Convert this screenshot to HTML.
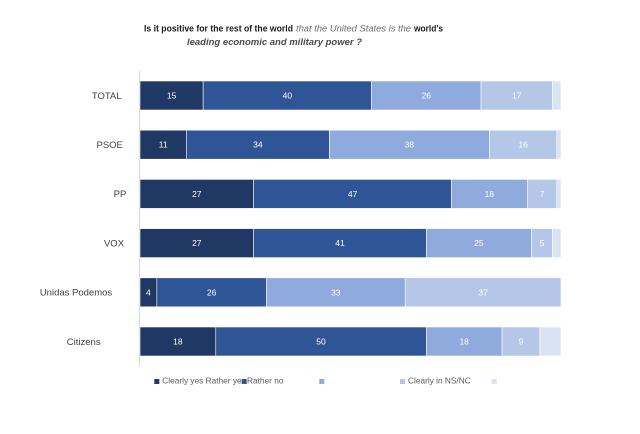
<!DOCTYPE html>
<html>
<head>
<meta charset="utf-8">
<style>
html,body{margin:0;padding:0;background:#fff;}
svg{display:block;}
text{font-family:"Liberation Sans",Arial,sans-serif;}
</style>
</head>
<body>
<svg width="640" height="434" viewBox="0 0 640 434" xmlns="http://www.w3.org/2000/svg">
<rect width="640" height="434" fill="#fff"/>
<!-- Title -->
<text x="144" y="31.3" font-size="9" font-weight="bold" fill="#1a1a1a" textLength="149" lengthAdjust="spacingAndGlyphs">Is it positive for the rest of the world</text>
<text x="296" y="31.3" font-size="9" font-style="italic" fill="#6b6b6b" textLength="115" lengthAdjust="spacingAndGlyphs">that the United States is the</text>
<text x="414" y="31.3" font-size="9" font-weight="bold" fill="#1a1a1a" textLength="29" lengthAdjust="spacingAndGlyphs">world's</text>
<text x="187" y="45" font-size="9" font-weight="bold" font-style="italic" fill="#4a4a4a" textLength="175" lengthAdjust="spacingAndGlyphs">leading economic and military power ?</text>

<!-- axis -->
<line x1="139.5" y1="70.5" x2="139.5" y2="366" stroke="#d9d9d9" stroke-width="1"/>

<g stroke="#ffffff" stroke-width="0.6">
<!-- TOTAL: 15,40,26,17,2 -->
<rect x="140" y="81" width="63.15" height="29" fill="#203864"/>
<rect x="203.15" y="81" width="168.4" height="29" fill="#2f5597"/>
<rect x="371.55" y="81" width="109.46" height="29" fill="#8faadc"/>
<rect x="481.01" y="81" width="71.57" height="29" fill="#b4c7e7"/>
<rect x="552.58" y="81" width="8.42" height="29" fill="#dae3f3"/>
<!-- PSOE: 11,34,38,16,1 -->
<rect x="140" y="130.2" width="46.31" height="29" fill="#203864"/>
<rect x="186.31" y="130.2" width="143.14" height="29" fill="#2f5597"/>
<rect x="329.45" y="130.2" width="159.98" height="29" fill="#8faadc"/>
<rect x="489.43" y="130.2" width="67.36" height="29" fill="#b4c7e7"/>
<rect x="556.79" y="130.2" width="4.21" height="29" fill="#dae3f3"/>
<!-- PP: 27,47,18,7,1 -->
<rect x="140" y="179.4" width="113.67" height="29" fill="#203864"/>
<rect x="253.67" y="179.4" width="197.87" height="29" fill="#2f5597"/>
<rect x="451.54" y="179.4" width="75.78" height="29" fill="#8faadc"/>
<rect x="527.32" y="179.4" width="29.47" height="29" fill="#b4c7e7"/>
<rect x="556.79" y="179.4" width="4.21" height="29" fill="#dae3f3"/>
<!-- VOX: 27,41,25,5,2 -->
<rect x="140" y="228.6" width="113.67" height="29" fill="#203864"/>
<rect x="253.67" y="228.6" width="172.61" height="29" fill="#2f5597"/>
<rect x="426.28" y="228.6" width="105.25" height="29" fill="#8faadc"/>
<rect x="531.53" y="228.6" width="21.05" height="29" fill="#b4c7e7"/>
<rect x="552.58" y="228.6" width="8.42" height="29" fill="#dae3f3"/>
<!-- Unidas Podemos: 4,26,33,37 -->
<rect x="140" y="277.8" width="16.84" height="29" fill="#203864"/>
<rect x="156.84" y="277.8" width="109.46" height="29" fill="#2f5597"/>
<rect x="266.3" y="277.8" width="138.93" height="29" fill="#8faadc"/>
<rect x="405.23" y="277.8" width="155.77" height="29" fill="#b4c7e7"/>
<!-- Citizens: 18,50,18,9,5 -->
<rect x="140" y="327" width="75.78" height="29" fill="#203864"/>
<rect x="215.78" y="327" width="210.5" height="29" fill="#2f5597"/>
<rect x="426.28" y="327" width="75.78" height="29" fill="#8faadc"/>
<rect x="502.06" y="327" width="37.89" height="29" fill="#b4c7e7"/>
<rect x="539.95" y="327" width="21.05" height="29" fill="#dae3f3"/>
</g>

<!-- value labels -->
<g font-size="8.5" fill="#ffffff" text-anchor="middle">
<text x="171.6" y="98.5">15</text>
<text x="287.4" y="98.5">40</text>
<text x="426.3" y="98.5">26</text>
<text x="516.8" y="98.5">17</text>

<text x="163.2" y="147.7">11</text>
<text x="257.9" y="147.7">34</text>
<text x="409.4" y="147.7">38</text>
<text x="523.1" y="147.7">16</text>

<text x="196.8" y="196.9">27</text>
<text x="352.6" y="196.9">47</text>
<text x="489.4" y="196.9">18</text>
<text x="542.1" y="196.9">7</text>

<text x="196.8" y="246.1">27</text>
<text x="340" y="246.1">41</text>
<text x="478.9" y="246.1">25</text>
<text x="542.1" y="246.1">5</text>

<text x="148.4" y="295.3">4</text>
<text x="211.6" y="295.3">26</text>
<text x="335.8" y="295.3">33</text>
<text x="483.1" y="295.3">37</text>

<text x="177.9" y="344.5">18</text>
<text x="321" y="344.5">50</text>
<text x="464.2" y="344.5">18</text>
<text x="521" y="344.5">9</text>
</g>

<!-- category labels -->
<g font-size="9.5" fill="#404040" text-anchor="middle">
<text x="106.7" y="98.8">TOTAL</text>
<text x="109.7" y="148">PSOE</text>
<text x="120" y="197.2">PP</text>
<text x="114" y="246.4">VOX</text>
<text x="76" y="295.6">Unidas Podemos</text>
<text x="83.7" y="344.8">Citizens</text>
</g>

<!-- legend -->
<g font-size="8.3" fill="#595959">
<rect x="154.3" y="379" width="5" height="5" fill="#203864"/>
<text x="162.3" y="383.5">Clearly yes Rather ye</text>
<rect x="241.7" y="379" width="5" height="5" fill="#2f5597"/>
<text x="247" y="383.5">Rather no</text>
<rect x="319.3" y="379" width="5" height="5" fill="#8faadc"/>
<rect x="400" y="379" width="5" height="5" fill="#b4c7e7"/>
<text x="408" y="383.5">Clearly in NS/NC</text>
<rect x="491.7" y="379" width="5" height="5" fill="#dae3f3"/>
</g>
</svg>
</body>
</html>
